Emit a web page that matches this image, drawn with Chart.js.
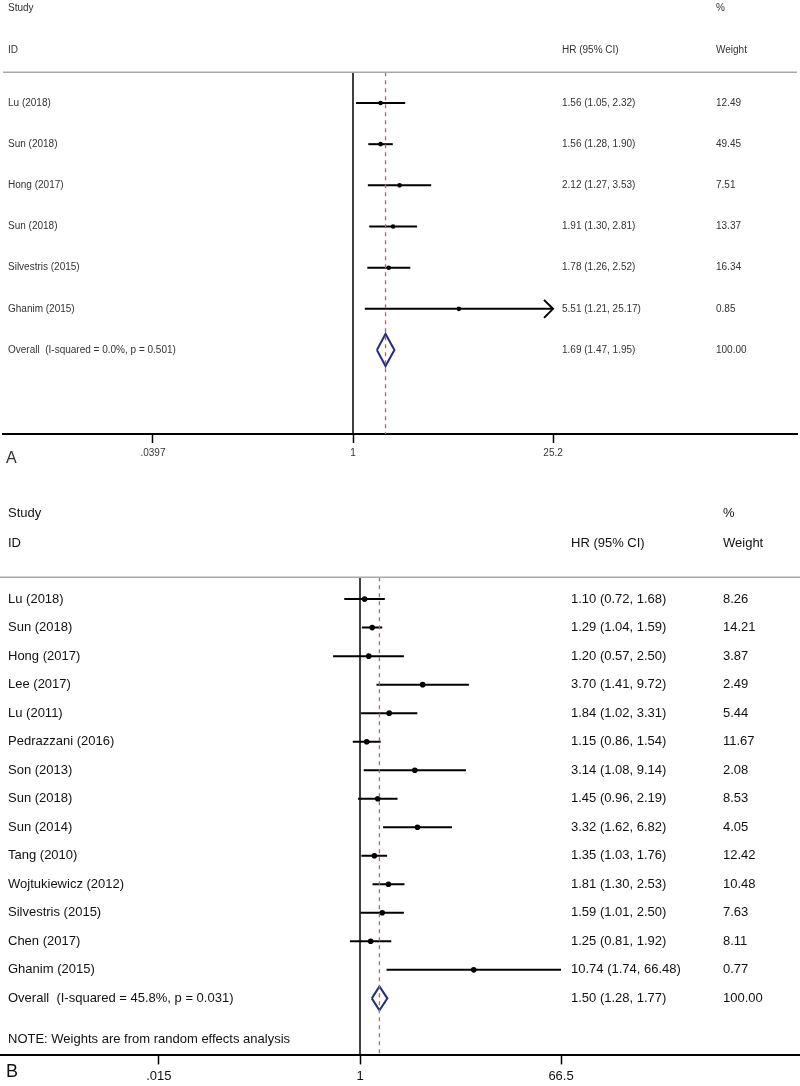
<!DOCTYPE html>
<html lang="en">
<head>
<meta charset="UTF-8">
<title>Forest plots</title>
<script src="https://cdn.jsdelivr.net/npm/chart.js"></script>
<style>
  body { margin: 0; background: #fff; overflow: hidden; }
  .wrap { position: relative; width: 800px; height: 1086px; overflow: hidden; }
  canvas { position: absolute; left: 0; display: block; }
  #chartA { top: 0; }
  #chartB { top: 476px; }
</style>
</head>
<body>
<div class="wrap">
  <canvas id="chartA" width="800" height="480"></canvas>
  <canvas id="chartB" width="800" height="624"></canvas>
</div>
<script>
// ---- panel A data ----
const studiesA = ["Lu (2018)", "Sun (2018)", "Hong (2017)", "Sun (2018)", "Silvestris (2015)", "Ghanim (2015)"];
const hrA = [1.56, 1.56, 2.12, 1.91, 1.78, 5.51];
const loA = [1.05, 1.28, 1.27, 1.30, 1.26, 1.21];
const hiA = [2.32, 1.90, 3.53, 2.81, 2.52, 25.17];
const weightA = [12.49, 49.45, 7.51, 13.37, 16.34, 0.85];
const overallA = [1.69, 1.47, 1.95];
const overallLabelA = "Overall  (I-squared = 0.0%, p = 0.501)";
const arrowRowsA = [5];
const ticksA = [0.0397, 1, 25.2];
const tickLabelsA = [".0397", "1", "25.2"];

// ---- panel B data ----
const studiesB = ["Lu (2018)", "Sun (2018)", "Hong (2017)", "Lee (2017)", "Lu (2011)", "Pedrazzani (2016)",
  "Son (2013)", "Sun (2018)", "Sun (2014)", "Tang (2010)", "Wojtukiewicz (2012)", "Silvestris (2015)",
  "Chen (2017)", "Ghanim (2015)"];
const hrB = [1.10, 1.29, 1.20, 3.70, 1.84, 1.15, 3.14, 1.45, 3.32, 1.35, 1.81, 1.59, 1.25, 10.74];
const loB = [0.72, 1.04, 0.57, 1.41, 1.02, 0.86, 1.08, 0.96, 1.62, 1.03, 1.30, 1.01, 0.81, 1.74];
const hiB = [1.68, 1.59, 2.50, 9.72, 3.31, 1.54, 9.14, 2.19, 6.82, 1.76, 2.53, 2.50, 1.92, 66.48];
const weightB = [8.26, 14.21, 3.87, 2.49, 5.44, 11.67, 2.08, 8.53, 4.05, 12.42, 10.48, 7.63, 8.11, 0.77];
const overallB = [1.50, 1.28, 1.77];
const overallLabelB = "Overall  (I-squared = 45.8%, p = 0.031)";
const noteB = "NOTE: Weights are from random effects analysis";
const arrowRowsB = [];
const ticksB = [0.015, 1, 66.5];
const tickLabelsB = [".015", "1", "66.5"];

const FONT = "'Liberation Sans', Arial, sans-serif";

function fmt(v) { return v.toFixed(2); }

function makeForest(id, d, s) {
  const n = d.studies.length;
  const datasets = [];
  const ruleY = s.ruleY;

  // null line at 1 and pooled estimate line
  datasets.push({ data: [{ x: 1, y: ruleY }, { x: 1, y: s.yMax }], showLine: true,
    borderColor: "#000", borderWidth: 1.5, pointRadius: 0 });
  datasets.push({ data: [{ x: d.overall[0], y: ruleY }, { x: d.overall[0], y: s.yMax }], showLine: true,
    borderColor: "#cc5a5a", borderWidth: 1.3, borderDash: [4, 4], pointRadius: 0 });

  // confidence intervals
  for (let i = 0; i < n; i++) {
    datasets.push({ data: [{ x: d.lo[i], y: i }, { x: d.hi[i], y: i }], showLine: true,
      borderColor: "#000", borderWidth: 2, pointRadius: 0 });
  }
  // point estimates
  datasets.push({ data: d.hr.map((v, i) => ({ x: v, y: i })), showLine: false,
    pointRadius: s.dot, backgroundColor: "#000", borderColor: "#000", borderWidth: 0 });

  // overall diamond
  const [est, olo, ohi] = d.overall;
  datasets.push({ data: [{ x: olo, y: n }, { x: est, y: n - s.dh }, { x: ohi, y: n }, { x: est, y: n + s.dh }, { x: olo, y: n }],
    showLine: true, borderColor: "#22307f", borderWidth: 2, pointRadius: 0, tension: 0 });

  const textPlugin = {
    id: "forestText",
    afterDraw(chart) {
      const ctx = chart.ctx;
      const ya = chart.scales.y, xa = chart.scales.x;
      const area = chart.chartArea;
      ctx.save();
      // grey rule under header
      ctx.strokeStyle = "#a8a8a8";
      ctx.lineWidth = 1.5;
      ctx.beginPath();
      ctx.moveTo(area.left, ya.getPixelForValue(ruleY));
      ctx.lineTo(area.right, ya.getPixelForValue(ruleY));
      ctx.stroke();

      ctx.fillStyle = s.color;
      ctx.font = s.fs + "px " + FONT;
      ctx.textBaseline = "middle";
      ctx.textAlign = "left";
      const row = v => ya.getPixelForValue(v);
      ctx.fillText("Study", s.xLab, row(s.studyY));
      ctx.fillText("ID", s.xLab, row(s.idY));
      ctx.fillText("HR (95% CI)", s.xHr, row(s.idY));
      ctx.fillText("%", s.xW, row(s.studyY));
      ctx.fillText("Weight", s.xW, row(s.idY));
      for (let i = 0; i < n; i++) {
        ctx.fillText(d.studies[i], s.xLab, row(i));
        ctx.fillText(fmt(d.hr[i]) + " (" + fmt(d.lo[i]) + ", " + fmt(d.hi[i]) + ")", s.xHr, row(i));
        ctx.fillText(fmt(d.weight[i]), s.xW, row(i));
      }
      ctx.fillText(d.overallLabel, s.xLab, row(n));
      ctx.fillText(fmt(est) + " (" + fmt(olo) + ", " + fmt(ohi) + ")", s.xHr, row(n));
      ctx.fillText("100.00", s.xW, row(n));
      if (d.note) ctx.fillText(d.note, s.xLab, row(s.noteY));

      // arrowheads for clipped intervals
      ctx.strokeStyle = "#000";
      ctx.lineWidth = 2;
      d.arrows.forEach(i => {
        const px = xa.getPixelForValue(d.hi[i]), py = row(i);
        ctx.beginPath();
        ctx.moveTo(px - 9, py - 9);
        ctx.lineTo(px, py);
        ctx.lineTo(px - 9, py + 9);
        ctx.stroke();
      });

      // panel letter
      ctx.font = s.letterFs + "px " + FONT;
      ctx.fillText(s.letter, 6, s.letterY);
      ctx.restore();
    }
  };

  return new Chart(document.getElementById(id), {
    type: "scatter",
    data: { datasets },
    options: {
      responsive: false,
      animation: false,
      layout: { autoPadding: false, padding: { left: s.padL, right: s.padR, top: 0, bottom: s.padB } },
      plugins: { legend: { display: false }, tooltip: { enabled: false } },
      scales: {
        x: {
          type: "logarithmic",
          min: s.xMin, max: s.xMax,
          afterBuildTicks: sc => { sc.ticks = d.ticks.map(v => ({ value: v })); },
          ticks: {
            autoSkip: false, maxRotation: 0, padding: s.tickPad,
            color: s.color, font: { size: s.fs, family: FONT },
            callback: (v, i) => d.tickLabels[i]
          },
          grid: { drawOnChartArea: false, drawTicks: true, tickLength: s.tickLen, tickWidth: 1.5, tickColor: "#000" },
          border: { display: true, color: "#000", width: 2 }
        },
        y: { type: "linear", min: s.yMin, max: s.yMax, reverse: true, display: false }
      }
    },
    plugins: [textPlugin]
  });
}

makeForest("chartA", {
  studies: studiesA, hr: hrA, lo: loA, hi: hiA, weight: weightA, overall: overallA,
  overallLabel: overallLabelA, note: null, arrows: arrowRowsA, ticks: ticksA, tickLabels: tickLabelsA
}, {
  xMin: Math.exp(-5.645), xMax: Math.exp(7.161), yMin: -2.502, yMax: 8.04,
  padL: 3, padR: 3, padB: 17, tickLen: 9, tickPad: 4, fs: 10, color: "#333",
  ruleY: -0.75, studyY: -2.31, idY: -1.29, dot: 2.3, dh: 0.39,
  xLab: 8, xHr: 562, xW: 716, letter: "A", letterFs: 16, letterY: 459
});

makeForest("chartB", {
  studies: studiesB, hr: hrB, lo: loB, hi: hiB, weight: weightB, overall: overallB,
  overallLabel: overallLabelB, note: noteB, arrows: arrowRowsB, ticks: ticksB, tickLabels: tickLabelsB
}, {
  xMin: Math.exp(-7.516), xMax: Math.exp(9.186), yMin: -4.316, yMax: 16.0,
  padL: 0, padR: 0, padB: 12, tickLen: 9, tickPad: 4, fs: 13, color: "#111",
  ruleY: -0.77, studyY: -3.02, idY: -1.96, noteY: 15.45, dot: 2.8, dh: 0.42,
  xLab: 8, xHr: 571, xW: 723, letter: "B", letterFs: 18, letterY: 596
});
</script>
</body>
</html>
